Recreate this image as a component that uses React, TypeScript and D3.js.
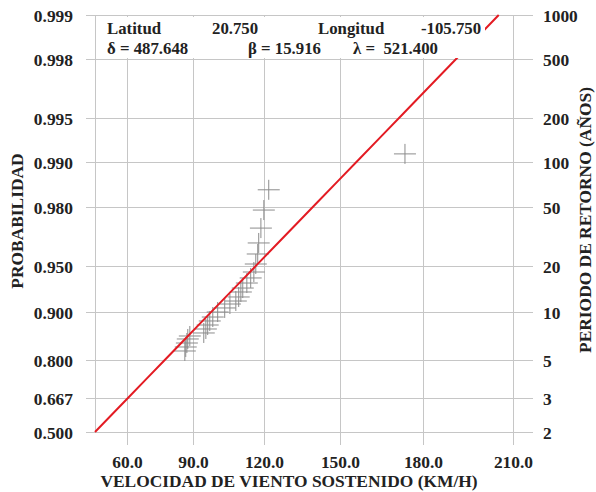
import { useEffect, useRef } from 'react';
import * as d3 from 'd3';

const WIDTH = 596;
const HEIGHT = 492;
const PLOT = { left: 95, right: 513, top: 15, bottom: 432 };

// parameters printed in the header box
const LATITUD = '20.750';
const LONGITUD = '-105.750';
const DELTA = 487.648;
const BETA = 15.916;
const LAMBDA = 521.4;

const speedTicks = [60, 90, 120, 150, 180, 210];
const probTicks = [0.5, 0.667, 0.8, 0.9, 0.95, 0.98, 0.99, 0.995, 0.998, 0.999];
const probLabels = ['0.500', '0.667', '0.800', '0.900', '0.950', '0.980', '0.990', '0.995', '0.998', '0.999'];
const periodLabels = ['2', '3', '5', '10', '20', '50', '100', '200', '500', '1000'];

// observed annual maxima (km/h) and their plotting probabilities
const obsSpeed = [
  86.5, 86.9, 87.4, 87.8, 88.7, 94.8, 95.7, 96.5, 97.4, 98.7, 100.8, 103.8, 106.0, 108.5,
  109.7, 110.6, 111.4, 113.1, 114.7, 116.0, 116.8, 117.6, 118.0, 118.9, 120.1, 122.1, 173.8,
];
const obsProb = [
  0.8232, 0.833, 0.8423, 0.8512, 0.8575, 0.8636, 0.8713, 0.8786, 0.8856, 0.8921, 0.8998,
  0.9057, 0.9111, 0.915, 0.92, 0.9258, 0.9301, 0.9352, 0.94, 0.9452, 0.9515, 0.9584, 0.9649,
  0.9721, 0.9789, 0.9846, 0.9912,
];

const FONT = '"Liberation Serif", "Times New Roman", serif';
const GRID = '#c6c6c6';
const INK = '#222';

// Gumbel reduced variate, so the probability axis is straight for the fit
const gumbel = (p: number) => -Math.log(-Math.log(p));
const weibullCdf = (v: number) => Math.exp(-Math.pow((LAMBDA - v) / DELTA, BETA));
const weibullInv = (p: number) => LAMBDA - DELTA * Math.pow(-Math.log(p), 1 / BETA);

export default function App() {
  const ref = useRef<SVGSVGElement | null>(null);

  useEffect(() => {
    if (!ref.current) return;
    const svg = d3.select(ref.current);
    svg.selectAll('*').remove();

    const xMin = weibullInv(0.5);
    const xMax = speedTicks[speedTicks.length - 1];
    const tx = (v: number) => Math.log10(LAMBDA - v);
    const xs = d3.scaleLinear().domain([tx(xMin), tx(xMax)]).range([PLOT.left, PLOT.right]);
    const x = (v: number) => xs(tx(v));
    const ys = d3
      .scaleLinear()
      .domain([gumbel(probTicks[0]), gumbel(probTicks[probTicks.length - 1])])
      .range([PLOT.bottom, PLOT.top]);
    const y = (p: number) => ys(gumbel(p));

    svg.append('rect').attr('width', WIDTH).attr('height', HEIGHT).attr('fill', '#fff');

    const label = (sel: d3.Selection<SVGTextElement, unknown, null, undefined>) =>
      sel.attr('font-family', FONT).attr('font-weight', 'bold').attr('font-size', 17.4).attr('fill', INK);

    // horizontal grid, running out past the frame as ticks
    probTicks.forEach((p, i) => {
      const yv = Math.round(y(p)) + 0.5;
      svg.append('line')
        .attr('x1', PLOT.left - 9).attr('x2', PLOT.right + 20)
        .attr('y1', yv).attr('y2', yv)
        .attr('stroke', GRID).attr('stroke-width', 1);
      svg.append('text')
        .attr('x', 73).attr('y', yv).attr('dy', '0.35em')
        .attr('text-anchor', 'end')
        .call(label)
        .text(probLabels[i]);
      svg.append('text')
        .attr('x', 543).attr('y', yv).attr('dy', '0.35em')
        .attr('text-anchor', 'start')
        .call(label)
        .text(periodLabels[i]);
    });

    // vertical grid
    speedTicks.forEach((v) => {
      const xv = Math.round(x(v)) + 0.5;
      svg.append('line')
        .attr('x1', xv).attr('x2', xv)
        .attr('y1', PLOT.top).attr('y2', PLOT.bottom + 13)
        .attr('stroke', GRID).attr('stroke-width', 1);
      svg.append('text')
        .attr('x', xv).attr('y', 468)
        .attr('text-anchor', 'middle')
        .call(label)
        .text(v.toFixed(1));
    });
    svg.append('line')
      .attr('x1', PLOT.left + 0.5).attr('x2', PLOT.left + 0.5)
      .attr('y1', PLOT.top).attr('y2', PLOT.bottom)
      .attr('stroke', GRID).attr('stroke-width', 1);

    // observed points as crosses
    const cross = svg.append('g')
      .attr('stroke', '#8c8c8c').attr('stroke-width', 1).attr('fill', 'none');
    obsSpeed.forEach((v, i) => {
      const cx = x(v);
      const cy = y(obsProb[i]);
      cross.append('path').attr('d', `M${cx - 11},${cy}H${cx + 11}M${cx},${cy - 10}V${cy + 10}`);
    });

    // fitted Weibull line
    const vTop = weibullInv(probTicks[probTicks.length - 1]);
    const fit = d3.range(0, 21).map((k) => xMin + ((vTop - xMin) * k) / 20);
    const line = d3.line<number>().x((v) => x(v)).y((v) => y(weibullCdf(v)));
    svg.append('path')
      .datum(fit)
      .attr('d', line)
      .attr('fill', 'none')
      .attr('stroke', '#e31b23')
      .attr('stroke-width', 2);

    // header box
    svg.append('rect')
      .attr('x', PLOT.left + 2).attr('y', PLOT.top + 2)
      .attr('width', 485 - PLOT.left - 2).attr('height', 41)
      .attr('fill', '#fff');
    const head = svg.append('g')
      .attr('font-family', FONT).attr('font-weight', 'bold').attr('font-size', 16.8)
      .attr('fill', INK);
    head.append('text').attr('x', 107).attr('y', 34).text('Latitud');
    head.append('text').attr('x', 212).attr('y', 34).text(LATITUD);
    head.append('text').attr('x', 318).attr('y', 34).text('Longitud');
    head.append('text').attr('x', 421).attr('y', 34).text(LONGITUD);
    head.append('text').attr('x', 107).attr('y', 54).text(`δ = ${DELTA.toFixed(3)}`);
    head.append('text').attr('x', 248).attr('y', 54).text(`β = ${BETA.toFixed(3)}`);
    head.append('text').attr('x', 353).attr('y', 54).attr('xml:space', 'preserve')
      .text(`λ =  ${LAMBDA.toFixed(3)}`);

    // axis titles
    svg.append('text')
      .attr('x', 289).attr('y', 487)
      .attr('text-anchor', 'middle')
      .call(label)
      .text('VELOCIDAD DE VIENTO SOSTENIDO (KM/H)');
    svg.append('text')
      .attr('transform', 'translate(23,221) rotate(-90)')
      .attr('text-anchor', 'middle')
      .call(label)
      .text('PROBABILIDAD');
    svg.append('text')
      .attr('transform', 'translate(591,220) rotate(-90)')
      .attr('text-anchor', 'middle')
      .call(label)
      .text('PERIODO DE RETORNO (AÑOS)');
  }, []);

  return (
    <div style={{ position: 'absolute', left: 0, top: 0 }}>
      <svg ref={ref} width={WIDTH} height={HEIGHT} viewBox={`0 0 ${WIDTH} ${HEIGHT}`} style={{ display: 'block' }} />
    </div>
  );
}
